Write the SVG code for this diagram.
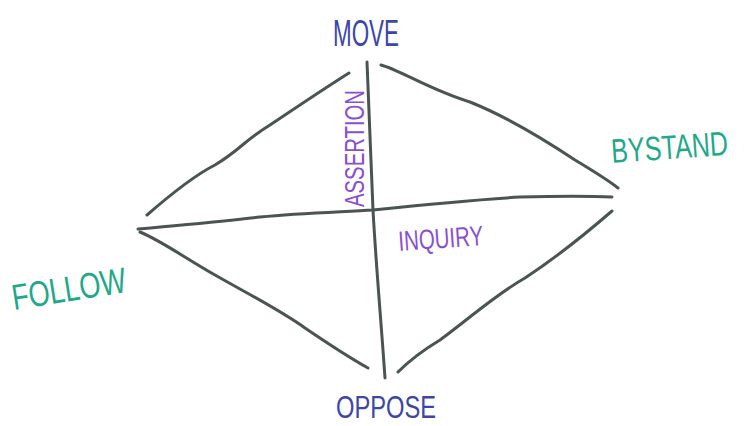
<svg xmlns="http://www.w3.org/2000/svg" width="745" height="426" viewBox="0 0 745 426">
<style>
.ln{fill:none;stroke:#4a5553;stroke-width:3;stroke-linecap:round;stroke-linejoin:round}
.lbl{font-family:"Liberation Sans","DejaVu Sans",sans-serif;font-size:36px}
.blue{fill:#3d46a8}
.teal{fill:#1fa88a}
.purple{fill:#8a4fd0;font-size:28px}
.sm{font-size:32px}
</style>
<rect width="745" height="426" fill="#ffffff"/>
<g id="connectors">
<path class="ln" d="M147,215 C170,195 195,175 215,165 C240,150 245,140 270,125 C300,105 325,88 349,73"/>
<path class="ln" d="M381,65 C400,70 430,90 470,102 C510,118 545,140 575,160 C595,172 608,180 618,188"/>
<path class="ln" d="M140,232 C160,240 185,258 215,275 C250,295 280,310 305,328 C330,345 350,358 368,368"/>
<path class="ln" d="M398,372 C408,362 420,352 440,340 C470,318 495,295 525,278 C560,255 590,230 612,211"/>
<path class="ln" d="M138,229 C180,225 220,222 260,217 C300,213 340,212 373,210 C420,205 470,200 520,197 C560,196 590,196 612,197"/>
<path class="ln" d="M367,62 C369,110 371,160 373,210 C376,265 381,320 385,378"/>
</g>
<g id="move"><text class="lbl blue" x="333" y="46" textLength="66" lengthAdjust="spacingAndGlyphs">MOVE</text></g>
<g id="bystand"><text class="lbl teal" style="font-size:34px" x="0" y="0" transform="translate(612,163) rotate(-4) scale(0.74,1)">BYSTAND</text></g>
<g id="follow"><text class="lbl teal" x="0" y="0" textLength="115" lengthAdjust="spacingAndGlyphs" transform="translate(14,310) rotate(-9)">FOLLOW</text></g>
<g id="oppose"><text class="lbl blue sm" x="336" y="418" textLength="100" lengthAdjust="spacingAndGlyphs">OPPOSE</text></g>
<g id="assertion"><text class="lbl purple" x="0" y="0" textLength="117" lengthAdjust="spacingAndGlyphs" transform="translate(364,207) rotate(-90)">ASSERTION</text></g>
<g id="inquiry"><text class="lbl purple" x="0" y="0" textLength="85" lengthAdjust="spacingAndGlyphs" transform="translate(399,251) rotate(-4)">INQUIRY</text></g>
</svg>
